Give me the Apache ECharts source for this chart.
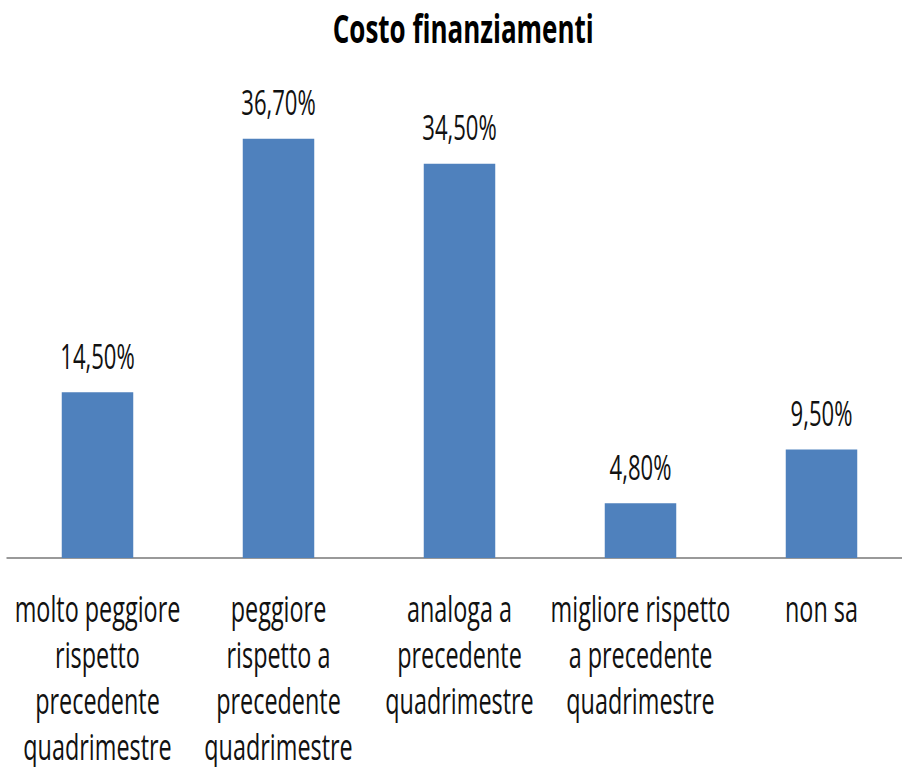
<!DOCTYPE html>
<html>
<head>
<meta charset="utf-8">
<script src="https://cdn.jsdelivr.net/npm/echarts@6/dist/echarts.min.js"></script>
<style>
  html, body { margin: 0; padding: 0; background: #fff; overflow: hidden; }
  /* the reference uses a narrow font; draw wider and squeeze horizontally */
  #chart { width: 1388px; height: 767px; transform: scaleX(0.65); transform-origin: left top; }
</style>
</head>
<body>
<div id="chart"></div>
<script>
var categories = [
    'molto peggiore\nrispetto\nprecedente\nquadrimestre',
    'peggiore\nrispetto a\nprecedente\nquadrimestre',
    'analoga a\nprecedente\nquadrimestre',
    'migliore rispetto\na precedente\nquadrimestre',
    'non sa'
];
var values = [14.5, 36.7, 34.5, 4.8, 9.5];

var FONT = '"Open Sans", sans-serif';
var SX = 0.65;

var chart = echarts.init(document.getElementById('chart'), null, {renderer: 'svg'});
chart.setOption({
    animation: false,
    title: {
        text: 'Costo finanziamenti',
        left: 460 / SX,
        top: 3,
        textAlign: 'center',
        textStyle: {
            fontFamily: FONT,
            fontSize: 40,
            fontWeight: 'bold',
            color: '#000'
        }
    },
    grid: {
        left: 7 / SX,
        width: 905 / SX,
        top: 101,
        bottom: 209,
        outerBoundsMode: 'none'
    },
    xAxis: {
        type: 'category',
        data: categories,
        axisTick: {show: false},
        axisLine: {lineStyle: {color: '#999', width: 2}},
        axisLabel: {
            interval: 0,
            margin: 27,
            fontFamily: FONT,
            fontSize: 36,
            lineHeight: 46,
            color: '#111',
            verticalAlign: 'top'
        }
    },
    yAxis: {
        type: 'value',
        min: 0,
        max: 40,
        show: false,
        splitLine: {show: false}
    },
    series: [{
        type: 'bar',
        data: values,
        barWidth: '39.5%',
        itemStyle: {color: '#4F81BD'},
        label: {
            show: true,
            position: 'top',
            distance: 20,
            fontFamily: FONT,
            fontSize: 34,
            color: '#111',
            formatter: function (p) {
                return p.value.toFixed(2).replace('.', ',') + '%';
            }
        }
    }]
});
</script>
</body>
</html>
